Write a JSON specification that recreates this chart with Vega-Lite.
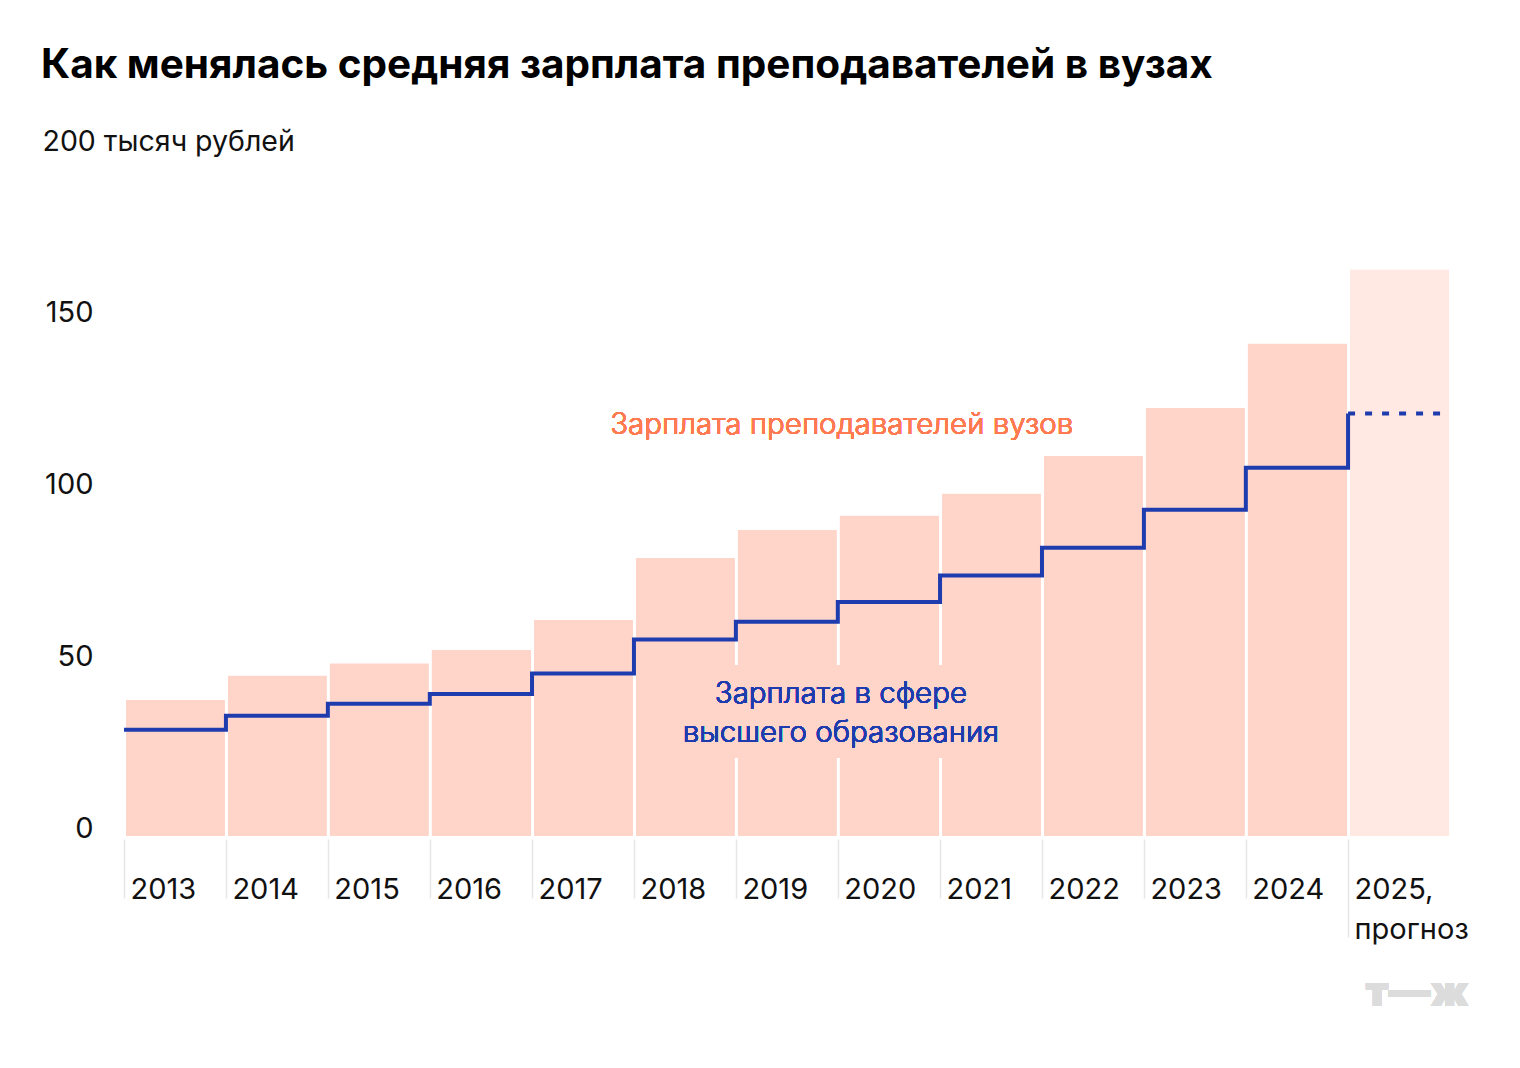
{
  "$schema": "https://vega.github.io/schema/vega-lite/v6.json",
  "autosize": {"type": "none"},
  "width": 1326,
  "height": 687,
  "padding": {"left": 124, "top": 150, "right": 70, "bottom": 231},
  "background": "#ffffff",
  "config": {
    "view": {"stroke": null},
    "font": "Inter"
  },
  "title": {
    "text": "Как менялась средняя зарплата преподавателей в вузах",
    "anchor": "start",
    "frame": "group",
    "dx": -83,
    "offset": 9,
    "baseline": "alphabetic",
    "font": "Inter",
    "fontSize": 40.5,
    "fontWeight": "bold",
    "color": "#000000"
  },
  "data": {
    "values": [
      {"год": "2013", "вузы": 40.2, "сфера": 31.2, "тип": "факт"},
      {"год": "2014", "вузы": 47.2, "сфера": 35.3, "тип": "факт"},
      {"год": "2015", "вузы": 50.8, "сфера": 38.8, "тип": "факт"},
      {"год": "2016", "вузы": 54.7, "сфера": 41.6, "тип": "факт"},
      {"год": "2017", "вузы": 63.5, "сфера": 47.6, "тип": "факт"},
      {"год": "2018", "вузы": 81.5, "сфера": 57.5, "тип": "факт"},
      {"год": "2019", "вузы": 89.7, "сфера": 62.7, "тип": "факт"},
      {"год": "2020", "вузы": 93.8, "сфера": 68.4, "тип": "факт"},
      {"год": "2021", "вузы": 100.2, "сфера": 76.1, "тип": "факт"},
      {"год": "2022", "вузы": 111.2, "сфера": 84.2, "тип": "факт"},
      {"год": "2023", "вузы": 125.2, "сфера": 95.3, "тип": "факт"},
      {"год": "2024", "вузы": 143.9, "сфера": 107.5, "тип": "факт"},
      {"год": "2025", "вузы": 165.4, "сфера": 123.3, "тип": "прогноз"}
    ]
  },
  "layer": [
    {
      "mark": {"type": "bar", "stroke": "#ffffff", "strokeWidth": 2},
      "encoding": {
        "x": {
          "field": "год",
          "type": "temporal",
          "timeUnit": "utcyear",
          "scale": {
            "type": "utc",
            "domain": [{"year": 2013, "utc": true}, {"year": 2026, "utc": true}],
            "nice": false
          },
          "axis": {
            "orient": "bottom",
            "title": null,
            "offset": 2,
            "domain": false,
            "grid": false,
            "ticks": true,
            "tickColor": "#e6e6e6",
            "tickWidth": 1.5,
            "tickSize": {"condition": {"test": "utcyear(datum.value) == 2025", "value": 98}, "value": 59},
            "labelPadding": {"condition": {"test": "utcyear(datum.value) == 2025", "value": -39}, "value": 0},
            "values": [
              {"year": 2013, "utc": true}, {"year": 2014, "utc": true}, {"year": 2015, "utc": true},
              {"year": 2016, "utc": true}, {"year": 2017, "utc": true}, {"year": 2018, "utc": true},
              {"year": 2019, "utc": true}, {"year": 2020, "utc": true}, {"year": 2021, "utc": true},
              {"year": 2022, "utc": true}, {"year": 2023, "utc": true}, {"year": 2024, "utc": true},
              {"year": 2025, "utc": true}
            ],
            "labelExpr": "utcyear(datum.value) == 2025 ? ['2025,', 'прогноз'] : utcFormat(datum.value, '%Y')",
            "labelAlign": "left",
            "labelBaseline": "alphabetic",
            "labelOffset": 6,
            "labelLineHeight": 40,
            "labelFont": "Inter",
            "labelFontSize": 29,
            "labelColor": "#111111",
            "labelOverlap": false,
            "labelFlush": false,
            "labelBound": false
          }
        },
        "y": {
          "field": "вузы",
          "type": "quantitative",
          "scale": {"domain": [0, 200], "nice": false},
          "axis": {
            "orient": "left",
            "values": [0, 50, 100, 150],
            "domain": false,
            "grid": false,
            "ticks": false,
            "tickSize": 0,
            "labelPadding": 31,
            "labelBaseline": "alphabetic",
            "labelFont": "Inter",
            "labelFontSize": 29,
            "labelColor": "#111111",
            "labelFlush": false,
            "title": "200 тысяч рублей",
            "titleAngle": 0,
            "titleAlign": "left",
            "titleBaseline": "alphabetic",
            "titleX": -82,
            "titleY": 0,
            "titleFont": "Inter",
            "titleFontSize": 28.5,
            "titleFontWeight": "normal",
            "titleColor": "#111111"
          }
        },
        "color": {
          "field": "тип",
          "type": "nominal",
          "scale": {"domain": ["факт", "прогноз"], "range": ["#ffd5ca", "#ffe9e2"]},
          "legend": null
        }
      }
    },
    {
      "mark": {"type": "rect", "color": "#ffd5ca"},
      "encoding": {
        "x": {"datum": {"year": 2018, "month": 7, "date": 1, "utc": true}, "type": "temporal"},
        "x2": {"datum": {"year": 2021, "month": 8, "date": 1, "utc": true}},
        "y": {"datum": 23, "type": "quantitative"},
        "y2": {"datum": 50}
      }
    },
    {
      "mark": {"type": "line", "interpolate": "step-after", "color": "#1e3cae", "strokeWidth": 4, "strokeJoin": "miter", "strokeCap": "butt"},
      "encoding": {
        "x": {"field": "год", "type": "temporal"},
        "y": {"field": "сфера", "type": "quantitative"}
      }
    },
    {
      "transform": [{"filter": "datum['тип'] == 'прогноз'"}],
      "mark": {"type": "rule", "color": "#1e3cae", "strokeWidth": 4, "strokeDash": [7, 10], "strokeCap": "butt"},
      "encoding": {
        "x": {"field": "год", "type": "temporal"},
        "x2": {"datum": {"year": 2026, "utc": true}},
        "y": {"field": "сфера", "type": "quantitative"}
      }
    },
    {
      "mark": {"type": "text", "font": "Inter", "align": "center", "baseline": "alphabetic", "fontSize": 29.5, "fontWeight": 300, "color": "#ff7a50"},
      "encoding": {
        "x": {"datum": {"year": 2020, "month": 1, "date": 15, "utc": true}, "type": "temporal"},
        "y": {"datum": 117.3, "type": "quantitative"},
        "text": {"value": "Зарплата преподавателей вузов"}
      }
    },
    {
      "mark": {"type": "text", "font": "Inter", "align": "center", "baseline": "alphabetic", "fontSize": 29.5, "fontWeight": 300, "lineHeight": 39, "color": "#1e3cae"},
      "encoding": {
        "x": {"datum": {"year": 2020, "month": 1, "date": 12, "utc": true}, "type": "temporal"},
        "y": {"datum": 39.0, "type": "quantitative"},
        "text": {"value": ["Зарплата в сфере", "высшего образования"]}
      }
    },
    {
      "mark": {"type": "text", "font": "Inter", "align": "center", "baseline": "alphabetic", "fontSize": 42, "fontWeight": 900, "color": "#dcdcdc"},
      "encoding": {
        "x": {"datum": {"year": 2025, "month": 9, "date": 5, "utc": true}, "type": "temporal"},
        "y": {"datum": -49.2, "type": "quantitative"},
        "text": {"value": "т—ж"}
      }
    }
  ]
}
